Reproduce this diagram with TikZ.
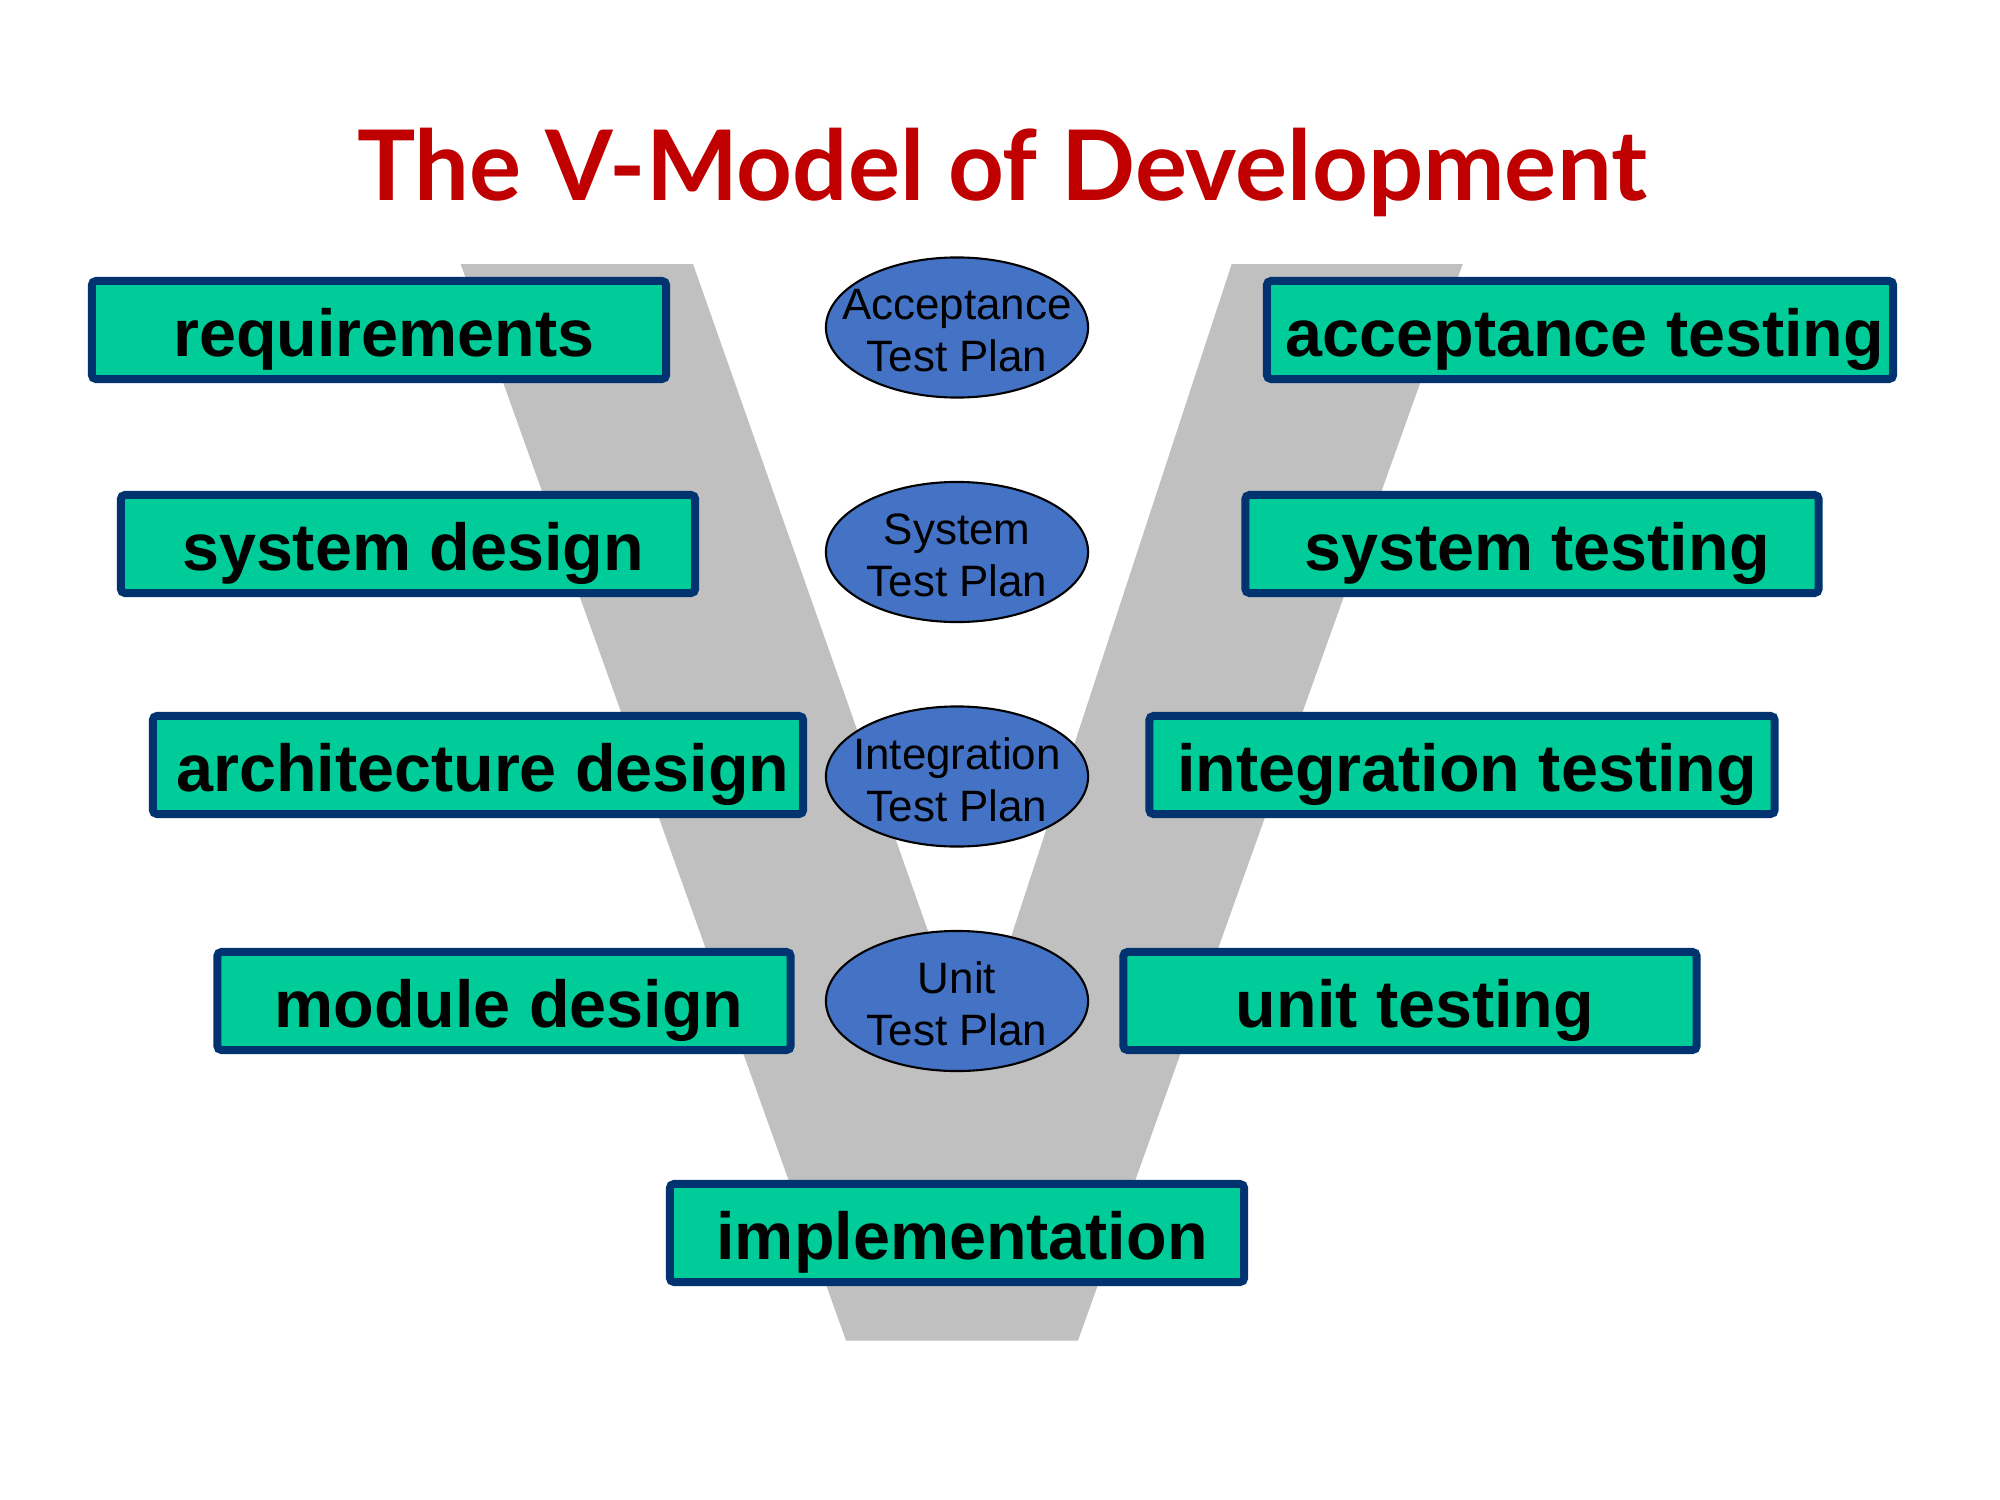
\documentclass[tikz,border=0pt]{standalone}
\usepackage{fontspec}
\setmainfont{Liberation Sans}
\newfontfamily\titlefont{Lato}
\usetikzlibrary{shapes.geometric}
\definecolor{vgrey}{RGB}{192,192,192}
\definecolor{boxfill}{RGB}{0,204,153}
\definecolor{boxline}{RGB}{0,51,112}
\definecolor{planfill}{RGB}{68,114,196}
\definecolor{titlered}{RGB}{192,0,0}
\begin{document}
\begin{tikzpicture}[x=0.01cm,y=-0.01cm,
  stage/.style={draw=boxline, line width=2.28pt, fill=boxfill,
    rounded corners=1.2pt, inner sep=0pt, minimum height=0.98cm,
    font=\fontsize{18.9}{22}\selectfont\bfseries,
    execute at begin node=\hspace*{0.1cm},
    text height=15.1pt, text depth=0pt},
  plan/.style={ellipse, draw=black, line width=0.6pt, fill=planfill,
    inner sep=0pt, minimum width=2.62cm, minimum height=1.40cm},
  plantext/.style={align=center, inner sep=0pt, yshift=-0.03cm,
    font=\fontsize{12.5}{14.8}\selectfont}]
% canvas
\fill[white] (0,0) rectangle (2000,1500);
\useasboundingbox (0,0) rectangle (2000,1500);

% the grey V
\fill[vgrey] (460.7,264) -- (693,264) -- (972,1056) -- (1231.7,264)
  -- (1462.7,264) -- (1078,1340.5) -- (846,1340.5) -- cycle;

% title
\node[font=\titlefont\bfseries\fontsize{27.7}{30}\selectfont, text=titlered,
  anchor=base, inner sep=0pt] (title) at (1002,200) {The V-Model of Development};

% left arm: specification stages
\node[stage, minimum width=5.74cm] (req) at (379,330) {requirements};
\node[stage, minimum width=5.74cm] (sysd) at (408,544) {system design};
\node[stage, minimum width=6.50cm] (arch) at (478,765) {architecture design};
\node[stage, minimum width=5.73cm] (mod) at (504,1001) {module design};

% bottom
\node[stage, minimum width=5.74cm] (impl) at (957,1233) {implementation};

% right arm: testing stages
\node[stage, minimum width=6.26cm] (acct) at (1580,330) {acceptance testing};
\node[stage, minimum width=5.73cm] (syst) at (1532,544) {system testing};
\node[stage, minimum width=6.25cm] (intt) at (1462,765) {integration testing};
\node[stage, minimum width=5.73cm] (unitt) at (1410,1001) {unit testing};

% test plans
\node[plan] (accp) at (957,327.5) {};
\node[plantext] (accpt) at (accp) {Acceptance\\Test Plan};
\node[plan] (sysp) at (957,552) {};
\node[plantext] (syspt) at (sysp) {System\\Test Plan};
\node[plan] (intp) at (957,776.5) {};
\node[plantext] (intpt) at (intp) {Integration\\Test Plan};
\node[plan] (unitp) at (957,1001) {};
\node[plantext] (unitpt) at (unitp) {Unit\\Test Plan};
\end{tikzpicture}
\end{document}
